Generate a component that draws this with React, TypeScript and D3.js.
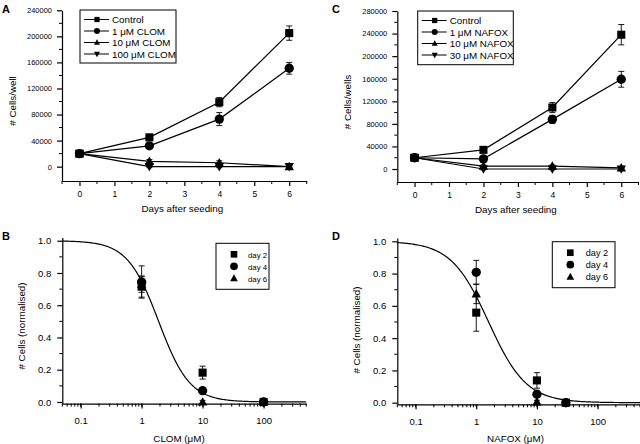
import { useEffect, useRef } from 'react'
import * as d3 from 'd3'

const FONT = '"Liberation Sans", Arial, Helvetica, sans-serif'

// growth curves (panels A and C)
const days = [0, 2, 4, 6]
const dayTicks = [0, 1, 2, 3, 4, 5, 6]

const clomLabels = ['Control', '1 \u03bcM CLOM', '10 \u03bcM CLOM', '100 \u03bcM CLOM']
const clomControl = [20000, 45000, 99000, 205000]
const clomControlErr = [2000, 2500, 7000, 11000]
const clom1 = [20000, 32000, 73000, 151000]
const clom1Err = [2000, 2500, 10000, 9000]
const clom10 = [20000, 8000, 6000, 0]
const clom10Err = [2000, 3000, 3000, 1500]
const clom100 = [20000, 0, 0, 0]
const clom100Err = [2000, 1500, 1500, 1500]

const nafoxLabels = ['Control', '1 \u03bcM NAFOX', '10 \u03bcM NAFOX', '30 \u03bcM NAFOX']
const nafoxControl = [20000, 34000, 109000, 238000]
const nafoxControlErr = [2000, 2500, 9000, 18000]
const nafox1 = [20000, 18000, 88000, 159000]
const nafox1Err = [2000, 2500, 7000, 14000]
const nafox10 = [20000, 5000, 5000, 2000]
const nafox10Err = [2000, 2000, 2000, 1500]
const nafox30 = [20000, 0, 0, 0]
const nafox30Err = [2000, 1500, 1500, 1500]

// dose response (panels B and D)
const dayLabels = ['day 2', 'day 4', 'day 6']
const clomDoses = [1, 10, 100]
const clomDay2 = [0.715, 0.182, 0]
const clomDay2Err = [0.065, 0.04, 0.01]
const clomDay4 = [0.744, 0.07, 0]
const clomDay4Err = [0.1, 0.01, 0.01]
const clomDay6 = [0.73, 0.0, 0]
const clomDay6Err = [0.05, 0.01, 0.01]
const clomFit = { ic50: 1.9, hill: 1.7 }

const nafoxDoses = [1, 10, 30]
const nafoxDay2 = [0.558, 0.138, 0]
const nafoxDay2Err = [0.115, 0.048, 0.01]
const nafoxDay4 = [0.808, 0.052, 0]
const nafoxDay4Err = [0.074, 0.01, 0.01]
const nafoxDay6 = [0.674, 0.005, 0]
const nafoxDay6Err = [0.06, 0.01, 0.01]
const nafoxFit = { ic50: 1.6, hill: 1.4 }

const shapes = ['square', 'circle', 'up', 'down']

const marker = (g, shape, x, y, size) => {
  if (shape === 'circle') {
    g.append('circle').attr('cx', x).attr('cy', y).attr('r', size * 0.55).attr('fill', '#000')
  } else if (shape === 'square') {
    const s = size * 0.95
    g.append('rect').attr('x', x - s / 2).attr('y', y - s / 2).attr('width', s).attr('height', s).attr('fill', '#000')
  } else {
    const h = size * 0.95
    const w = size * 1.1
    const d = shape === 'up'
      ? `M${x},${y - h * 0.6}L${x + w / 2},${y + h * 0.45}L${x - w / 2},${y + h * 0.45}Z`
      : `M${x},${y + h * 0.6}L${x + w / 2},${y - h * 0.45}L${x - w / 2},${y - h * 0.45}Z`
    g.append('path').attr('d', d).attr('fill', '#000')
  }
}

const errBar = (g, x, y0, y1) => {
  g.append('line').attr('x1', x).attr('x2', x).attr('y1', y0).attr('y2', y1).attr('stroke', '#000').attr('stroke-width', 0.9)
  ;[y0, y1].forEach(y => {
    g.append('line').attr('x1', x - 3).attr('x2', x + 3).attr('y1', y).attr('y2', y).attr('stroke', '#000').attr('stroke-width', 0.9)
  })
}

const styleAxis = (sel, size) => {
  sel.select('.domain').attr('stroke', '#000').attr('stroke-width', 1.2)
  sel.selectAll('.tick line').attr('stroke', '#000').attr('stroke-width', 1.2)
  sel.selectAll('text').attr('fill', '#000').style('font-family', FONT).style('font-size', size + 'px')
}

const drawGrowth = (svg, p) => {
  const x = d3.scaleLinear().domain([-0.5, 6.5]).range(p.xr)
  const y = d3.scaleLinear().domain(p.yd).range(p.yr)
  const g = svg.append('g')

  // minor ticks
  d3.range(-0.5, 6.51, 1).forEach(v => {
    g.append('line').attr('x1', x(v)).attr('x2', x(v)).attr('y1', p.yr[0]).attr('y2', p.yr[0] + 3).attr('stroke', '#000')
  })
  d3.range(p.yStep / 2, p.yd[1], p.yStep).forEach(v => {
    g.append('line').attr('x1', p.xr[0]).attr('x2', p.xr[0] - 3).attr('y1', y(v)).attr('y2', y(v)).attr('stroke', '#000')
  })

  const xa = g.append('g').attr('transform', `translate(0,${p.yr[0]})`)
    .call(d3.axisBottom(x).tickValues(dayTicks).tickSize(5).tickSizeOuter(0).tickPadding(5).tickFormat(d3.format('d')))
  styleAxis(xa, 8.5)
  const ya = g.append('g').attr('transform', `translate(${p.xr[0]},0)`)
    .call(d3.axisLeft(y).tickValues(d3.range(0, p.yd[1] + 1, p.yStep)).tickSize(5).tickSizeOuter(0).tickPadding(5).tickFormat(d3.format('d')))
  styleAxis(ya, 7.5)

  const line = d3.line().x((d, i) => x(days[i])).y(d => y(d))
  p.series.forEach(s => {
    g.append('path').datum(s.values).attr('fill', 'none').attr('stroke', '#000').attr('stroke-width', 1.2).attr('d', line)
  })
  p.series.forEach((s, k) => {
    s.values.forEach((v, i) => {
      errBar(g, x(days[i]), y(v - s.err[i]), y(v + s.err[i]))
      marker(g, shapes[k], x(days[i]), y(v), 8.5)
    })
  })

  // legend
  const lg = g.append('g')
  lg.append('rect').attr('x', p.legend.x).attr('y', p.legend.y).attr('width', p.legend.w).attr('height', p.legend.h)
    .attr('fill', 'none').attr('stroke', '#000').attr('stroke-width', 1)
  p.series.forEach((s, k) => {
    const ly = p.legend.y + 9.5 + k * 11.5
    const lx = p.legend.x + 4
    lg.append('line').attr('x1', lx).attr('x2', lx + 25).attr('y1', ly).attr('y2', ly).attr('stroke', '#000').attr('stroke-width', 1)
    marker(lg, shapes[k], lx + 13, ly, 5.5)
    lg.append('text').attr('x', lx + 28).attr('y', ly + 3.5).style('font-family', FONT).style('font-size', '9.8px').text(s.label)
  })

  svg.append('text').attr('x', (p.xr[0] + p.xr[1]) / 2 - 2).attr('y', p.yr[0] + 31)
    .attr('text-anchor', 'middle').style('font-family', FONT).style('font-size', '9.8px').text('Days after seeding')
  svg.append('text').attr('transform', `translate(${p.xr[0] - 46},${p.ytitleY}) rotate(-90)`)
    .attr('text-anchor', 'middle').style('font-family', FONT).style('font-size', '9.8px').text(p.ytitle)
  svg.append('text').attr('x', p.letter[0]).attr('y', p.letter[1]).style('font-family', FONT).style('font-weight', 'bold')
    .style('font-size', '11px').text(p.letterText)
}

const drawDose = (svg, p) => {
  const x = d3.scaleLog().domain([0.05, 500]).range(p.xr)
  const y = d3.scaleLinear().domain(p.yd).range(p.yr)
  const g = svg.append('g')

  const allTicks = x.ticks()
  const major = allTicks.filter(v => Math.abs(Math.log10(v) - Math.round(Math.log10(v))) < 1e-9)
  allTicks.forEach(v => {
    g.append('line').attr('x1', x(v)).attr('x2', x(v)).attr('y1', p.yr[0]).attr('y2', p.yr[0] + 3).attr('stroke', '#000')
  })
  d3.range(0.1, 1.01, 0.2).forEach(v => {
    g.append('line').attr('x1', p.xr[0]).attr('x2', p.xr[0] - 3).attr('y1', y(v)).attr('y2', y(v)).attr('stroke', '#000')
  })

  const xa = g.append('g').attr('transform', `translate(0,${p.yr[0]})`)
    .call(d3.axisBottom(x).tickValues(major).tickSize(5).tickSizeOuter(0).tickPadding(9).tickFormat(d => String(d)))
  styleAxis(xa, 9.5)
  const ya = g.append('g').attr('transform', `translate(${p.xr[0]},0)`)
    .call(d3.axisLeft(y).tickValues([0, 0.2, 0.4, 0.6, 0.8, 1.0]).tickSize(5).tickSizeOuter(0).tickPadding(6).tickFormat(d3.format('.1f')))
  styleAxis(ya, 9.5)

  const fit = d3.range(Math.log10(0.05), Math.log10(500) + 0.001, 0.02).map(l => {
    const c = Math.pow(10, l)
    return [c, 1 / (1 + Math.pow(c / p.fit.ic50, p.fit.hill))]
  })
  g.append('path').datum(fit).attr('fill', 'none').attr('stroke', '#000').attr('stroke-width', 1.2)
    .attr('d', d3.line().x(d => x(d[0])).y(d => y(d[1])))

  p.series.forEach((s, k) => {
    s.values.forEach((v, i) => {
      errBar(g, x(p.doses[i]), y(v - s.err[i]), y(v + s.err[i]))
      marker(g, shapes[k], x(p.doses[i]), y(v), 8.5)
    })
  })

  const lg = g.append('g')
  lg.append('rect').attr('x', p.legend.x).attr('y', p.legend.y).attr('width', p.legend.w).attr('height', p.legend.h)
    .attr('fill', 'none').attr('stroke', '#000').attr('stroke-width', 1)
  p.series.forEach((s, k) => {
    const ly = p.legend.y + 11 + k * 12
    marker(lg, shapes[k], p.legend.x + p.legend.mx, ly, 7)
    lg.append('text').attr('x', p.legend.x + p.legend.tx).attr('y', ly + 3.3).style('font-family', FONT)
      .style('font-size', p.legend.fs + 'px').text(s.label)
  })

  svg.append('text').attr('x', p.xtitleX).attr('y', p.yr[0] + 38)
    .attr('text-anchor', 'middle').style('font-family', FONT).style('font-size', '9.8px').text(p.xtitle)
  svg.append('text').attr('transform', `translate(${p.xr[0] - 37},${p.ytitleY}) rotate(-90)`)
    .attr('text-anchor', 'middle').style('font-family', FONT).style('font-size', '9.8px').text('# Cells (normalised)')
  svg.append('text').attr('x', p.letter[0]).attr('y', p.letter[1]).style('font-family', FONT).style('font-weight', 'bold')
    .style('font-size', '11px').text(p.letterText)
}

const App = () => {
  const svgRef = useRef(null)

  useEffect(() => {
    const svg = d3.select(svgRef.current)
    svg.selectAll('*').remove()
    svg.append('rect').attr('width', 640).attr('height', 444).attr('fill', '#fff')

    drawGrowth(svg, {
      xr: [62, 306.7], yd: [-22000, 240000], yr: [181, 10.3], yStep: 40000,
      ytitle: '# Cells/well', ytitleY: 101, letter: [2, 13], letterText: 'A',
      legend: { x: 80, y: 10, w: 96, h: 53 },
      series: [
        { label: clomLabels[0], values: clomControl, err: clomControlErr },
        { label: clomLabels[1], values: clom1, err: clom1Err },
        { label: clomLabels[2], values: clom10, err: clom10Err },
        { label: clomLabels[3], values: clom100, err: clom100Err }
      ]
    })
    drawGrowth(svg, {
      xr: [397.3, 638.5], yd: [-23000, 280000], yr: [182, 11], yStep: 40000,
      ytitle: '# Cells/wells', ytitleY: 102, letter: [332, 13], letterText: 'C',
      legend: { x: 417.7, y: 11, w: 95.6, h: 53.7 },
      series: [
        { label: nafoxLabels[0], values: nafoxControl, err: nafoxControlErr },
        { label: nafoxLabels[1], values: nafox1, err: nafox1Err },
        { label: nafoxLabels[2], values: nafox10, err: nafox10Err },
        { label: nafoxLabels[3], values: nafox30, err: nafox30Err }
      ]
    })
    drawDose(svg, {
      xr: [62.3, 306.2], yd: [-0.01, 1.02], yr: [403.6, 237.5],
      doses: clomDoses, fit: clomFit, xtitle: 'CLOM (\u03bcM)', xtitleX: 179, ytitleY: 326,
      letter: [2, 240], letterText: 'B',
      legend: { x: 216, y: 243.3, w: 53, h: 46, mx: 18, tx: 32, fs: 7.8 },
      series: [
        { label: dayLabels[0], values: clomDay2, err: clomDay2Err },
        { label: dayLabels[1], values: clomDay4, err: clomDay4Err },
        { label: dayLabels[2], values: clomDay6, err: clomDay6Err }
      ]
    })
    drawDose(svg, {
      xr: [397.3, 640], yd: [-0.01, 1.02], yr: [404.3, 238.1],
      doses: nafoxDoses, fit: nafoxFit, xtitle: 'NAFOX (\u03bcM)', xtitleX: 515.5, ytitleY: 330,
      letter: [332, 240], letterText: 'D',
      legend: { x: 552.3, y: 241.7, w: 62.7, h: 46, mx: 18, tx: 33.4, fs: 9.2 },
      series: [
        { label: dayLabels[0], values: nafoxDay2, err: nafoxDay2Err },
        { label: dayLabels[1], values: nafoxDay4, err: nafoxDay4Err },
        { label: dayLabels[2], values: nafoxDay6, err: nafoxDay6Err }
      ]
    })
  }, [])

  return (
    <svg ref={svgRef} width={640} height={444}
      style={{ position: 'absolute', left: 0, top: 0, display: 'block' }} />
  )
}

export default App
